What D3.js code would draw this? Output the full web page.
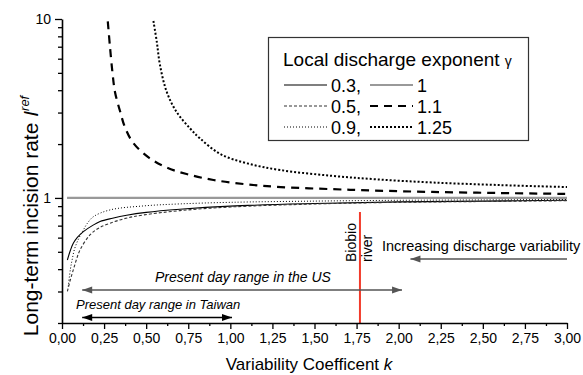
<!DOCTYPE html>
<html>
<head>
<meta charset="utf-8">
<script src="https://cdn.jsdelivr.net/npm/d3@7"></script>
<style>
body { margin: 0; background: #fff; }
svg { font-family: "Liberation Sans", Arial, sans-serif; }
</style>
</head>
<body>
<svg id="chart" width="583" height="375"></svg>
<script>
'use strict'

// k (variability coefficient) and incision rate, one pair per exponent
const k03 = [0.032, 0.05, 0.067, 0.09, 0.127, 0.18, 0.226, 0.3, 0.384, 0.5, 0.7, 1.0, 1.5, 2.0, 2.5, 3.0]
const r03 = [0.45, 0.51, 0.558, 0.60, 0.648, 0.70, 0.738, 0.77, 0.80, 0.83, 0.864, 0.90, 0.93, 0.95, 0.96, 0.97]

const k05 = [0.032, 0.05, 0.067, 0.085, 0.107, 0.166, 0.22, 0.285, 0.38, 0.483, 0.7, 1.0, 1.5, 2.0, 2.5, 3.0]
const r05 = [0.30, 0.35, 0.396, 0.45, 0.512, 0.621, 0.68, 0.722, 0.77, 0.803, 0.849, 0.89, 0.925, 0.945, 0.955, 0.965]

const k09 = [0.037, 0.05, 0.06, 0.075, 0.1, 0.128, 0.15, 0.186, 0.285, 0.483, 0.7, 1.0, 1.5, 2.0, 2.5, 3.0]
const r09 = [0.32, 0.40, 0.45, 0.52, 0.595, 0.665, 0.72, 0.785, 0.857, 0.902, 0.926, 0.945, 0.96, 0.97, 0.975, 0.98]

const k10 = [0.03, 3.0]
const r10 = [1, 1]

const k11 = [0.272, 0.285, 0.30, 0.315, 0.345, 0.375, 0.425, 0.52, 0.62, 0.74, 0.90, 1.10, 1.30, 1.60, 1.85, 2.20, 2.60, 3.00]
const r11 = [9.7, 7.0, 5.0, 3.9, 3.05, 2.47, 2.02, 1.67, 1.48, 1.36, 1.26, 1.19, 1.15, 1.12, 1.10, 1.08, 1.065, 1.053]

const k125 = [0.543, 0.563, 0.582, 0.622, 0.68, 0.76, 0.82, 0.94, 1.10, 1.30, 1.60, 1.87, 2.2, 2.6, 3.0]
const r125 = [9.75, 7.47, 5.53, 3.92, 3.03, 2.45, 2.15, 1.76, 1.56, 1.43, 1.33, 1.27, 1.22, 1.18, 1.15]

// legend order (two columns) and tick values
const legendLeft = ['0.3', '0.5', '0.9']
const legendRight = ['1', '1.1', '1.25']
const xMajorTicks = [0, 0.25, 0.5, 0.75, 1, 1.25, 1.5, 1.75, 2, 2.25, 2.5, 2.75, 3]
const yMajorTicks = [1, 10]
const yMinorTicks = [0.2, 0.3, 0.4, 0.5, 0.6, 0.7, 0.8, 0.9, 2, 3, 4, 5, 6, 7, 8, 9]

// annotations (k ranges)
const usRange = [0.12, 2.02]
const taiwanRange = [0.12, 1.01]
const variabilityArrow = [3.0, 2.07]
const biobioK = 1.77

const series = [
	{gamma: '0.3', k: k03, r: r03},
	{gamma: '0.5', k: k05, r: r05},
	{gamma: '0.9', k: k09, r: r09},
	{gamma: '1', k: k10, r: r10},
	{gamma: '1.1', k: k11, r: r11},
	{gamma: '1.25', k: k125, r: r125}
]

// line style per exponent
const styles = {
	'0.3':  {stroke: '#000', width: 1.1, dash: null},
	'0.5':  {stroke: '#333', width: 1.1, dash: '3,2'},
	'0.9':  {stroke: '#000', width: 1, dash: '1,2'},
	'1':    {stroke: '#999', width: 2.2, dash: null},
	'1.1':  {stroke: '#000', width: 2.2, dash: '8,6'},
	'1.25': {stroke: '#000', width: 2, dash: '2,2'}
}

const plotLeft = 62, plotRight = 567, plotTop = 19, plotBottom = 323

const x = d3.scaleLinear().domain([0, 3]).range([plotLeft, plotRight])
const y = d3.scaleLog().domain([0.2, 10]).range([plotBottom, plotTop])

const svg = d3.select('#chart')

svg.append('clipPath').attr('id', 'plotclip')
	.append('rect').attr('x', plotLeft).attr('y', plotTop).attr('width', plotRight - plotLeft + 2).attr('height', plotBottom - plotTop)

// curves
const line = d3.line().x(d => x(d[0])).y(d => y(d[1])).curve(d3.curveCatmullRom.alpha(0.5))
svg.append('g').attr('clip-path', 'url(#plotclip)')
	.selectAll('path')
	.data(series)
	.enter().append('path')
		.attr('d', s => line(s.k.map((k, i) => [k, s.r[i]])))
		.attr('fill', 'none')
		.attr('stroke', s => styles[s.gamma].stroke)
		.attr('stroke-width', s => styles[s.gamma].width)
		.attr('stroke-dasharray', s => styles[s.gamma].dash)

// Biobio river marker
svg.append('line')
	.attr('x1', x(biobioK)).attr('x2', x(biobioK))
	.attr('y1', 212).attr('y2', plotBottom)
	.attr('stroke', '#f23a2a').attr('stroke-width', 2)

const fmt = d => d3.format('.2f')(d).replace('.', ',')

// x axis
svg.append('g').attr('transform', 'translate(0,' + plotBottom + ')')
	.call(d3.axisBottom(x).tickValues(xMajorTicks).tickFormat(fmt).tickSize(6).tickSizeOuter(0).tickPadding(4))
svg.append('g').attr('transform', 'translate(0,' + plotBottom + ')')
	.call(d3.axisBottom(x).tickValues(d3.range(0.125, 3, 0.25)).tickFormat('').tickSize(3).tickSizeOuter(0))
	.select('.domain').remove()

// y axis
svg.append('g').attr('transform', 'translate(' + plotLeft + ',0)')
	.call(d3.axisLeft(y).tickValues(yMajorTicks).tickFormat(d3.format('d')).tickSize(7).tickSizeOuter(0).tickPadding(4))
svg.append('g').attr('transform', 'translate(' + plotLeft + ',0)')
	.call(d3.axisLeft(y).tickValues(yMinorTicks).tickFormat('').tickSize(4).tickSizeOuter(0))
	.select('.domain').remove()

svg.selectAll('.domain').attr('stroke-width', 1.6)
svg.selectAll('.tick line').attr('stroke-width', 1.3)
svg.selectAll('.tick text').attr('font-size', 14).attr('fill', '#000')
svg.selectAll('g').attr('font-family', null)

// axis titles
const xTitle = svg.append('text')
	.attr('x', 309).attr('y', 370)
	.attr('text-anchor', 'middle').attr('font-size', 17)
xTitle.append('tspan').text('Variability Coefficent ')
xTitle.append('tspan').attr('font-style', 'italic').text('k')

const yTitle = svg.append('text')
	.attr('transform', 'translate(38,216) rotate(-90)')
	.attr('text-anchor', 'middle').attr('font-size', 21)
yTitle.append('tspan').text('Long-term incision rate ')
yTitle.append('tspan').attr('font-style', 'italic').text('I')
yTitle.append('tspan').attr('font-style', 'italic').attr('font-size', 13).attr('dy', -9).text('ref')

// arrows
function arrowHead (px, py, dir, color) {
	svg.append('path')
		.attr('d', 'M' + px + ',' + py + 'l' + (-dir * 10) + ',-3.5l0,7z')
		.attr('fill', color)
}
function arrow (k0, k1, py, color, both) {
	svg.append('line')
		.attr('x1', x(k0)).attr('x2', x(k1)).attr('y1', py).attr('y2', py)
		.attr('stroke', color).attr('stroke-width', 1.5)
	arrowHead(x(k1), py, Math.sign(k1 - k0), color)
	if (both) arrowHead(x(k0), py, Math.sign(k0 - k1), color)
}

arrow(usRange[0], usRange[1], 290, '#555', true)
arrow(taiwanRange[0], taiwanRange[1], 317.5, '#000', true)
arrow(variabilityArrow[0], variabilityArrow[1], 259, '#555', false)

svg.append('text').attr('x', 155).attr('y', 282)
	.attr('font-size', 14).attr('font-style', 'italic').text('Present day range in the US')
svg.append('text').attr('x', 76).attr('y', 309)
	.attr('font-size', 13).attr('font-style', 'italic').text('Present day range in Taiwan')
svg.append('text').attr('x', 382).attr('y', 251)
	.attr('font-size', 14.5).text('Increasing discharge variability')

svg.append('text').attr('transform', 'translate(356,262) rotate(-90)')
	.attr('font-size', 14).text('Biobio')
svg.append('text').attr('transform', 'translate(372,262) rotate(-90)')
	.attr('font-size', 14).text('river')

// legend
const legend = svg.append('g')
legend.append('rect')
	.attr('x', 268.5).attr('y', 37.5).attr('width', 260).attr('height', 103)
	.attr('fill', '#fff').attr('stroke', '#333').attr('stroke-width', 1.2)
const lt = legend.append('text').attr('x', 283).attr('y', 66).attr('font-size', 19)
lt.append('tspan').text('Local discharge exponent ')
lt.append('tspan').attr('font-size', 14).text('γ')

function legendColumn (labels, x0, suffix) {
	const row = legend.selectAll(null)
		.data(labels)
		.enter().append('g')
			.attr('transform', (d, i) => 'translate(' + x0 + ',' + (85 + i * 21) + ')')
	row.append('line')
		.attr('x1', 0).attr('x2', 43).attr('y1', 0).attr('y2', 0)
		.attr('stroke', d => styles[d].stroke)
		.attr('stroke-width', d => Math.min(styles[d].width, 1.8))
		.attr('stroke-dasharray', d => styles[d].dash)
	row.append('text')
		.attr('x', 47).attr('y', 6.5).attr('font-size', 18)
		.text(d => d + suffix)
}
legendColumn(legendLeft, 284, ',')
legendColumn(legendRight, 370, '')
</script>
</body>
</html>
